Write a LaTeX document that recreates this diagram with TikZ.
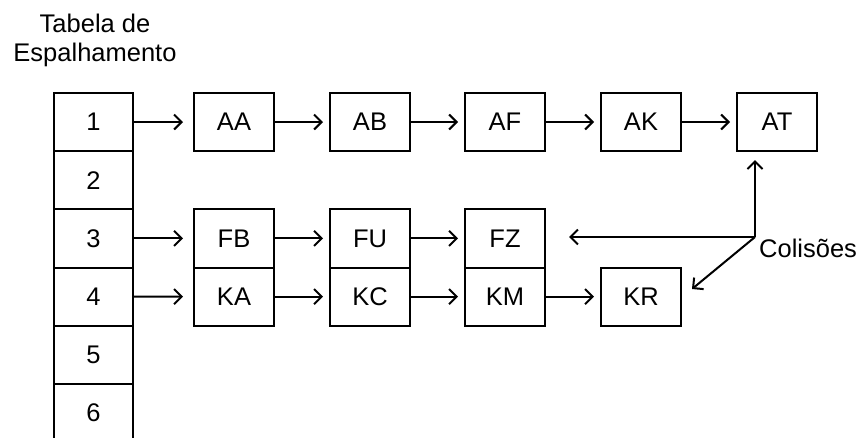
\documentclass[tikz,border=0pt]{standalone}
\usepackage{fontspec}
\setmainfont{Liberation Sans}
\usetikzlibrary{arrows.meta}
\begin{document}
\begin{tikzpicture}[x=1pt,y=-1pt,
  lw/.style={line width=2pt},
  txt/.style={font=\fontsize{25.5}{30}\selectfont},
  cell/.style={draw,lw,txt,rectangle,minimum width=79pt,minimum height=58.2pt,inner sep=0pt},
  item/.style={cell,minimum width=80pt},
  arr/.style={lw,-{Straight Barb[length=7.5pt,width=15pt]},shorten >=6pt},
  lbl/.style={txt,inner sep=0pt}]
\useasboundingbox (0,0) rectangle (862,437);
\clip (0,0) rectangle (862,437);

% title of the hash table
\node[lbl,align=center] (title) at (95,40) {Tabela de\\[-1pt]Espalhamento};

% hash table column
\foreach \i in {1,...,6}
  \node[cell] (t\i) at (93.5,{122+58.2*(\i-1)}) {\i};

% bucket 1
\node[item] (AA) at (234,122) {AA};
\node[item] (AB) at (370,122) {AB};
\node[item] (AF) at (505,122) {AF};
\node[item] (AK) at (641,122) {AK};
\node[item] (AT) at (777,122) {AT};

% bucket 3
\node[item] (FB) at (234,238.4) {FB};
\node[item] (FU) at (370,238.4) {FU};
\node[item] (FZ) at (505,238.4) {FZ};

% bucket 4
\node[item] (KA) at (234,296.6) {KA};
\node[item] (KC) at (370,296.6) {KC};
\node[item] (KM) at (505,296.6) {KM};
\node[item] (KR) at (641,296.6) {KR};

% chains
\draw[arr,shorten >=10pt] (t1.east) -- (AA.west);
\draw[arr] (AA) -- (AB);
\draw[arr] (AB) -- (AF);
\draw[arr] (AF) -- (AK);
\draw[arr] (AK) -- (AT);

\draw[arr,shorten >=10pt] (t3.east) -- (FB.west);
\draw[arr] (FB) -- (FU);
\draw[arr] (FU) -- (FZ);

\draw[arr,shorten >=10pt] (t4.east) -- (KA.west);
\draw[arr] (KA) -- (KC);
\draw[arr] (KC) -- (KM);
\draw[arr] (KM) -- (KR);

% collisions
\coordinate (J) at (755,237);
\coordinate (toFZ) at (569,237);
\coordinate (toKR) at (692,289);
\node[lbl,anchor=west] (col) at (759,248) {Colisões};
\draw[arr,shorten >=8pt] (J) -- (J |- AT.south);
\draw[arr,shorten >=0pt] (J) -- (toFZ);
\draw[arr,shorten >=0pt] (J) -- (toKR);
\end{tikzpicture}
\end{document}
